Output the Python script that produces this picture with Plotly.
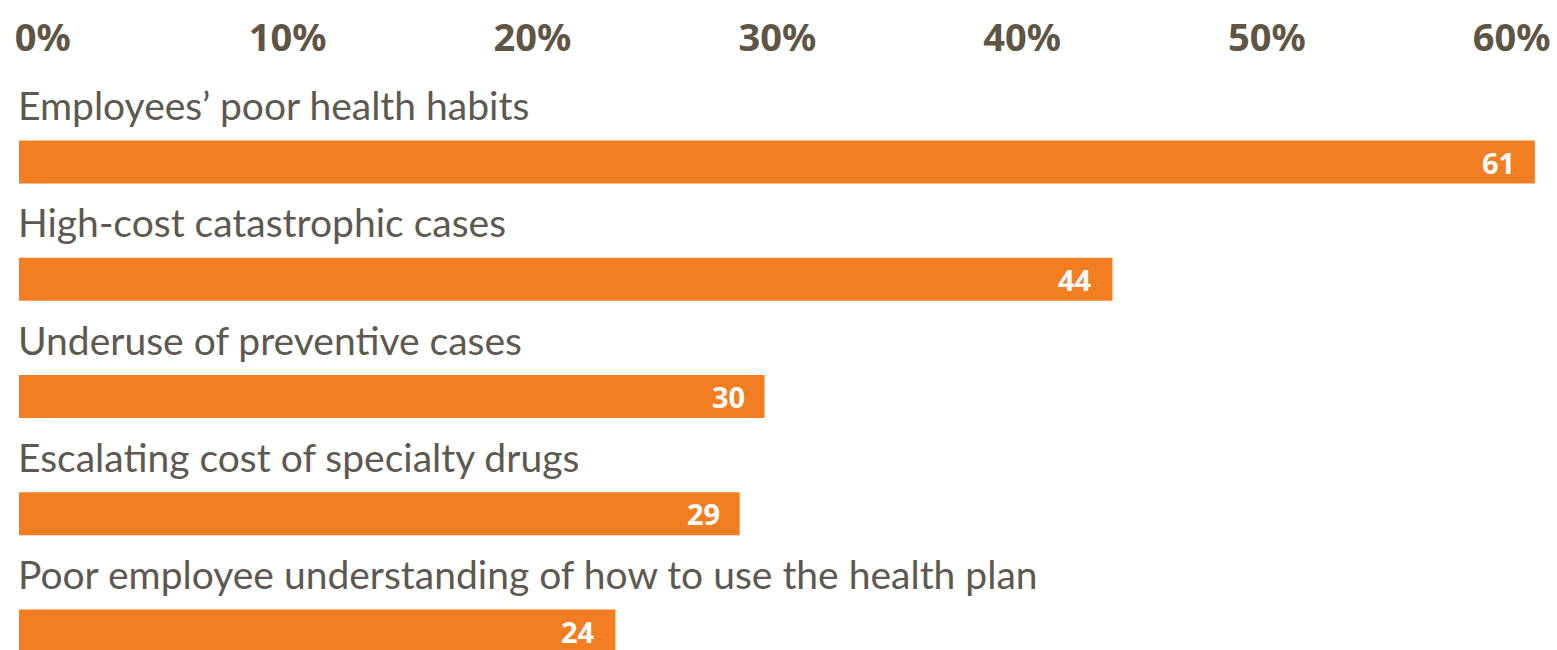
import plotly.graph_objects as go

categories = [
    "Employees’ poor health habits",
    "High-cost catastrophic cases",
    "Underuse of preventive cases",
    "Escalating cost of specialty drugs",
    "Poor employee understanding of how to use the health plan",
]
values = [61, 44, 30, 29, 24]
tick_values = [0, 10, 20, 30, 40, 50, 60]
tick_labels = ["0%", "10%", "20%", "30%", "40%", "50%", "60%"]

BAR = "#F37E22"
TEXT = "#5d5850"
TICK = "#5e5545"

fig = go.Figure()
fig.add_trace(go.Bar(
    x=values, y=categories, orientation="h",
    marker=dict(color=BAR, line=dict(width=0)),
    hoverinfo="skip", showlegend=False,
))
# invisible helper so the top percentage axis is drawn
fig.add_trace(go.Scatter(
    x=[values[0]], y=[categories[0]], xaxis="x2", mode="markers",
    marker=dict(opacity=0), hoverinfo="skip", showlegend=False,
))

annotations = []
for c, v in zip(categories, values):
    annotations.append(dict(
        x=0, y=c, xref="x", yref="y", text=c, showarrow=False,
        xanchor="left", yanchor="middle", xshift=-3, yshift=57,
        font=dict(family="Lato", size=39, color=TEXT),
    ))
    annotations.append(dict(
        x=v, y=c, xref="x", yref="y", text=str(v), showarrow=False,
        xanchor="right", yanchor="middle", xshift=-18, yshift=0,
        font=dict(family="Noto Sans", size=29, color="white", weight="bold"),
    ))

fig.update_layout(
    width=1557, height=650,
    margin=dict(l=0, r=0, t=60, b=0, autoexpand=False),
    paper_bgcolor="white", plot_bgcolor="white",
    bargap=0.633,
    annotations=annotations,
    xaxis=dict(range=[-0.765, 61.89], visible=False),
    xaxis2=dict(
        overlaying="x", side="top", range=[-1.75, 61.85],
        tickvals=tick_values, ticktext=tick_labels, automargin=False,
        showgrid=False, zeroline=False, showline=False,
        ticks="", ticklen=0,
        tickfont=dict(family="Noto Sans", size=38, color=TICK, weight="bold"),
    ),
    yaxis=dict(categoryorder="array", categoryarray=categories,
               range=[4.162, -0.870], visible=False, automargin=False),
)

fig.write_html("out.html")
